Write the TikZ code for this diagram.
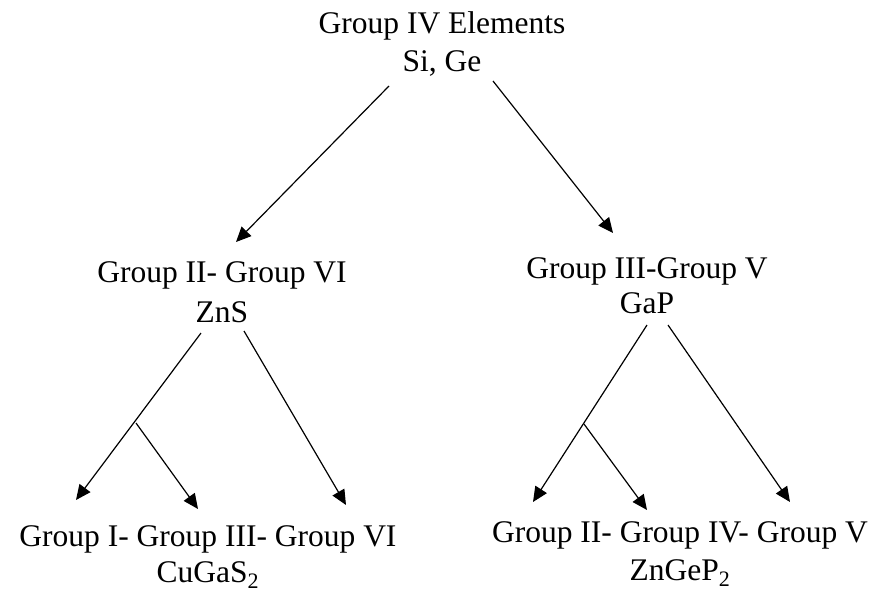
\documentclass[tikz,border=0pt]{standalone}
\usepackage{fontspec}
\setmainfont{Liberation Serif}
\usetikzlibrary{arrows.meta}
\begin{document}
\begin{tikzpicture}[x=1pt,y=-1pt,
  lbl/.style={anchor=base,inner sep=0pt,font=\fontsize{31.5}{38}\selectfont},
  conn/.style={line width=1.2pt,-{Triangle[length=15pt,width=13.5pt]}}]
\useasboundingbox[fill=white] (0,0) rectangle (881,592);
% labels
\node[lbl] (t1) at (442,33) {Group IV Elements};
\node[lbl] (t2) at (442,71) {Si, Ge};
\node[lbl] (l1) at (222,282) {Group II- Group VI};
\node[lbl] (l2) at (222,322) {ZnS};
\node[lbl] (r1) at (647,278) {Group III-Group V};
\node[lbl] (r2) at (647,313) {GaP};
\node[lbl] (bl1) at (208,546) {Group I- Group III- Group VI};
\node[lbl] (bl2) at (208,582) {CuGaS\textsubscript{2}};
\node[lbl] (br1) at (680,542) {Group II- Group IV- Group V};
\node[lbl] (br2) at (680,580) {ZnGeP\textsubscript{2}};
% connector points
\coordinate (ts1) at (389,86);
\coordinate (te1) at (236,242);
\coordinate (ts2) at (493,81);
\coordinate (te2) at (613,233);
\coordinate (ls1) at (201,333);
\coordinate (le1) at (76,500);
\coordinate (lb) at (136,423);
\coordinate (le2) at (198,509);
\coordinate (ls2) at (244,331);
\coordinate (le3) at (346,505);
\coordinate (rs1) at (647,325);
\coordinate (re1) at (533,502);
\coordinate (rb) at (584,424);
\coordinate (re2) at (647,510);
\coordinate (rs2) at (668,325);
\coordinate (re3) at (790,502);
% connectors
\draw[conn] (ts1) -- (te1);
\draw[conn] (ts2) -- (te2);
\draw[conn] (ls1) -- (le1);
\draw[conn] (lb) -- (le2);
\draw[conn] (ls2) -- (le3);
\draw[conn] (rs1) -- (re1);
\draw[conn] (rb) -- (re2);
\draw[conn] (rs2) -- (re3);
\end{tikzpicture}
\end{document}
